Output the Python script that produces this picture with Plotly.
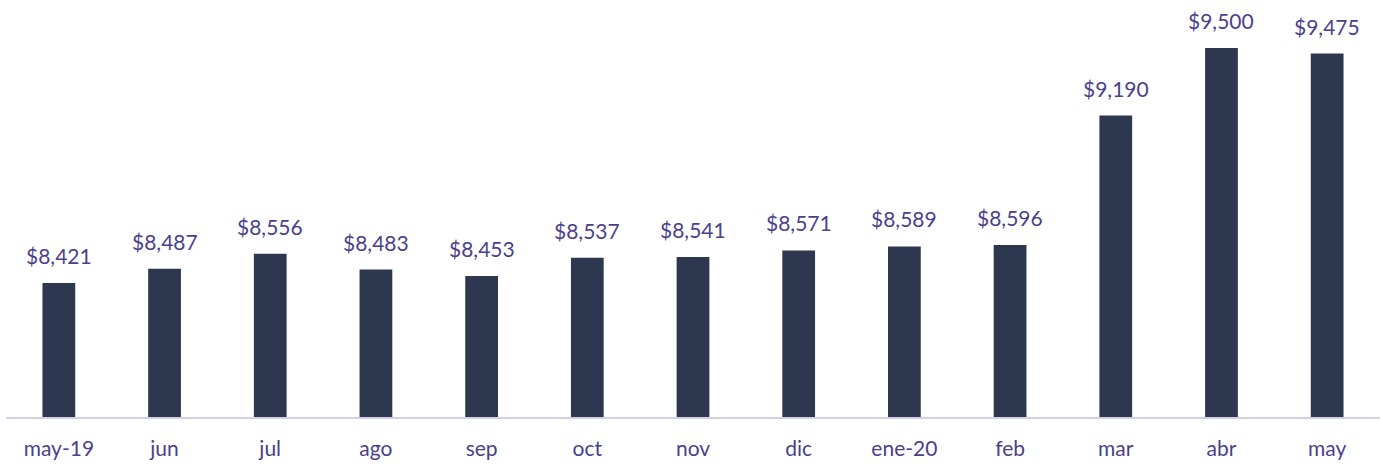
import plotly.graph_objects as go

categories = ["may-19", "jun", "jul", "ago", "sep", "oct", "nov", "dic", "ene-20", "feb", "mar", "abr", "may"]
values = [8421, 8487, 8556, 8483, 8453, 8537, 8541, 8571, 8589, 8596, 9190, 9500, 9475]
labels = ["$" + f"{v:,}" for v in values]

BAR = "#2D3850"
TXT = "#4B3F8C"
AXIS = "#D3CFE8"
FONT = "Lato"

fig = go.Figure()
fig.add_trace(go.Bar(x=categories, y=values, marker_color=BAR, marker_line_width=0,
                     hoverinfo="skip"))
for c, v, t in zip(categories, values, labels):
    fig.add_annotation(x=c, y=v, text=t, showarrow=False, yanchor="bottom", yshift=13,
                       font=dict(family=FONT, size=21, color=TXT))

fig.update_layout(
    width=1383, height=464,
    margin=dict(l=6, r=3, t=10, b=47),
    plot_bgcolor="white", paper_bgcolor="white",
    bargap=0.69, showlegend=False,
    xaxis=dict(showline=True, linecolor=AXIS, linewidth=2, ticks="", showgrid=False,
               tickfont=dict(family=FONT, size=21, color=TXT), ticklabelstandoff=12),
    yaxis=dict(range=[7806, 9675], visible=False, showgrid=False),
)
fig.write_html("out.html")
